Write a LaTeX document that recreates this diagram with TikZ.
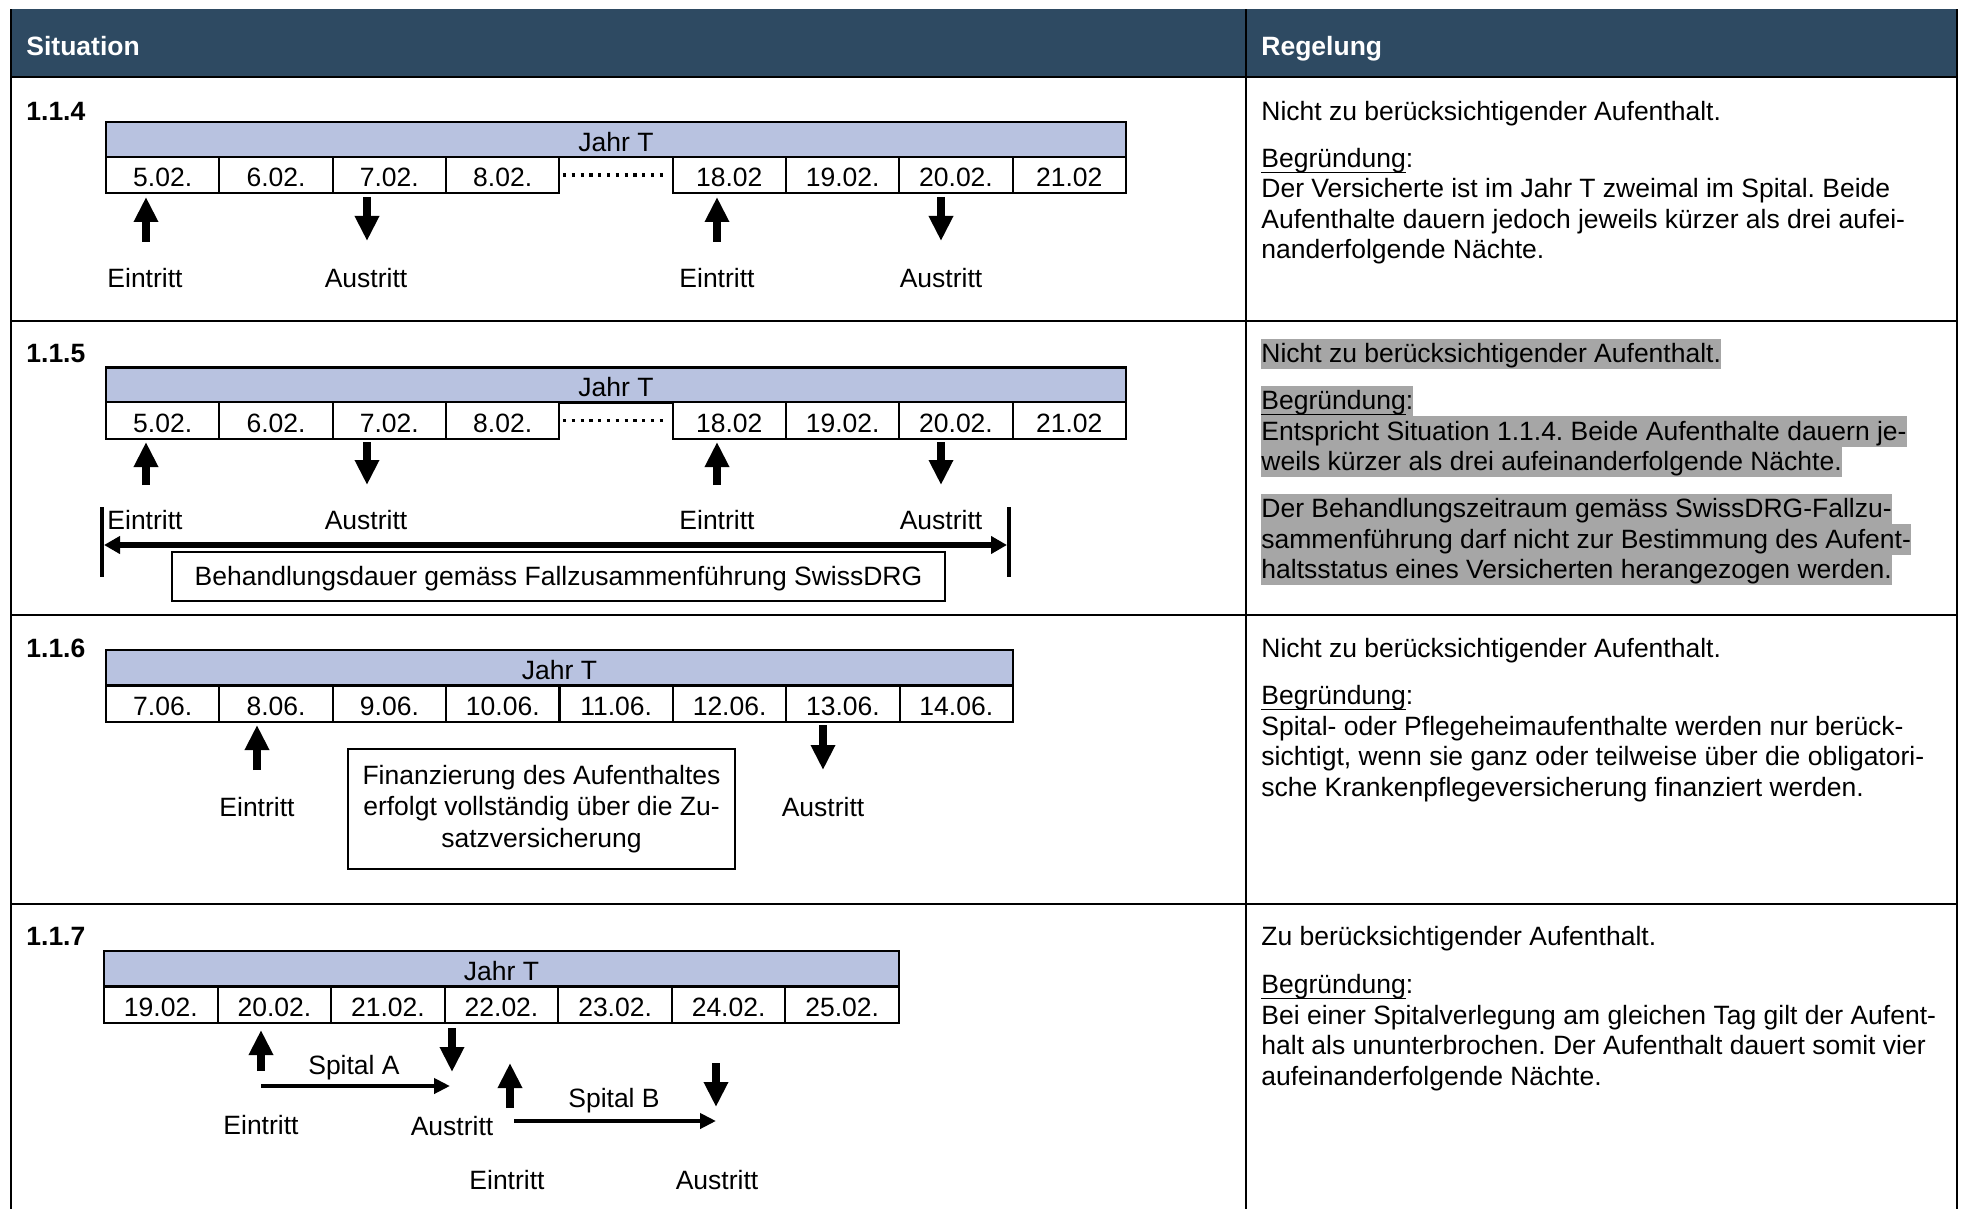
\documentclass[tikz,border=0pt]{standalone}
\usepackage{fontspec}
\setmainfont{Liberation Sans}
\usepackage{tikz}
\usetikzlibrary{arrows.meta}
\frenchspacing
\definecolor{headblue}{HTML}{2E4A62}
\definecolor{jahrblue}{HTML}{B8C2E0}
\definecolor{hlgray}{HTML}{A6A6A6}
\newcommand\grund{\fontsize{13.25pt}{15.25pt}\selectfont}
\newsavebox\ulbox
\newcommand\ulword[1]{\sbox\ulbox{#1}\rlap{\rule[-2.9pt]{\wd\ulbox}{0.75pt}}\usebox\ulbox}
\newcommand\hl[1]{{\setlength{\fboxsep}{0pt}\colorbox{hlgray}{\rule[-3.4pt]{0pt}{15.25pt}#1}}}
\tikzstyle{kopf}=[inner sep=0pt, anchor=base west, yshift=-1.25pt, text=white, font=\grund\bfseries]
\tikzstyle{nummer}=[inner sep=0pt, anchor=base west, yshift=-1.25pt, font=\grund\bfseries]
\tikzstyle{regel}=[inner sep=0pt, anchor=base west, yshift=-1.25pt, align=left]
\tikzstyle{marke}=[inner sep=0pt, anchor=base, yshift=-1.25pt]
\tikzstyle{jahr}=[draw=black, line width=1.1pt, fill=jahrblue, minimum height=17.5pt, inner sep=0pt, text height=12pt, text depth=0pt]
\tikzstyle{datum}=[draw=black, line width=1pt, fill=white, minimum width=56.67pt, minimum height=18pt, inner sep=0pt, text height=12pt, text depth=0pt]
\tikzstyle{luecke}=[minimum width=56.67pt, minimum height=18pt, inner sep=0pt]
\tikzstyle{punkte}=[line width=1.6pt, dash pattern=on 1.6pt off 2.8pt]
\tikzstyle{rahmen}=[draw=black, line width=1pt, fill=white, inner sep=0pt]
\tikzstyle{pfeil}=[line width=4pt, -{Triangle[width=11.5pt,length=12.5pt]}]
\tikzstyle{zeitpfeil}=[line width=2.2pt, -{Triangle[width=7.5pt,length=8pt]}]
\tikzstyle{spanne}=[line width=3pt, {Triangle[width=8.5pt,length=8pt]}-{Triangle[width=8.5pt,length=8pt]}]
\tikzstyle{klammer}=[line width=2.25pt]

\begin{document}
\begin{tikzpicture}[x=0.5pt, y=-0.5pt, font=\grund]
\useasboundingbox (0,0) rectangle (1961,1209);
\fill[white] (0,0) rectangle (1961,1209);
% table
\fill[headblue] (11,9.5) rectangle (1957,77);
\draw[line width=1pt] (11,9.5) -- (11,1209);
\draw[line width=1pt] (1246,9.5) -- (1246,1209);
\draw[line width=1pt] (1957,9.5) -- (1957,1209);
\draw[line width=1.3pt] (11,77) -- (1957,77);
\draw[line width=1.3pt] (11,321) -- (1957,321);
\draw[line width=1.3pt] (11,615) -- (1957,615);
\draw[line width=1.3pt] (11,904) -- (1957,904);
\node[kopf] (sit) at (26,53) {Situation};
\node[kopf] (reg) at (1261,53) {Regelung};

% 1.1.4
\node[nummer] (n4) at (26,118) {1.1.4};
\node[jahr, minimum width=510pt] (jahr4) at (616,139.5) {Jahr T};
\node[datum] (d40) at (162.7,175) {5.02.};
\node[datum] (d41) at (276,175) {6.02.};
\node[datum] (d42) at (389.3,175) {7.02.};
\node[datum] (d43) at (502.7,175) {8.02.};
\node[luecke] (d44) at (616,175) {};
\node[datum] (d45) at (729.3,175) {18.02};
\node[datum] (d46) at (842.7,175) {19.02.};
\node[datum] (d47) at (956,175) {20.02.};
\node[datum] (d48) at (1069.3,175) {21.02};
\draw[punkte] ([xshift=2pt]d44.west) -- ([xshift=-5pt]d44.east);
\coordinate (s40) at (146,242);
\coordinate (t40) at (146,197);
\coordinate (s41) at (367,197);
\coordinate (t41) at (367,241);
\coordinate (s42) at (717,242);
\coordinate (t42) at (717,197);
\coordinate (s43) at (941,197);
\coordinate (t43) at (941,241);
\draw[pfeil] (s40) -- (t40);
\draw[pfeil] (s41) -- (t41);
\draw[pfeil] (s42) -- (t42);
\draw[pfeil] (s43) -- (t43);
\node[marke] (l40) at (145,285) {Eintritt};
\node[marke] (l41) at (366,285) {Austritt};
\node[marke] (l42) at (717,285) {Eintritt};
\node[marke] (l43) at (941,285) {Austritt};
\node[regel] (r4a) at (1261,118) {Nicht zu berücksichtigender Aufenthalt.};
\node[regel] (r4b) at (1261,256.5) {\ulword{Begründung}:\\Der Versicherte ist im Jahr T zweimal im Spital. Beide\\Aufenthalte dauern jedoch jeweils kürzer als drei aufei-\\nanderfolgende Nächte.};

% 1.1.5
\node[nummer] (n5) at (26,360) {1.1.5};
\node[jahr, minimum width=510pt] (jahr5) at (616,385) {Jahr T};
\node[datum] (d50) at (162.7,420.5) {5.02.};
\node[datum] (d51) at (276,420.5) {6.02.};
\node[datum] (d52) at (389.3,420.5) {7.02.};
\node[datum] (d53) at (502.7,420.5) {8.02.};
\node[luecke] (d54) at (616,420.5) {};
\node[datum] (d55) at (729.3,420.5) {18.02};
\node[datum] (d56) at (842.7,420.5) {19.02.};
\node[datum] (d57) at (956,420.5) {20.02.};
\node[datum] (d58) at (1069.3,420.5) {21.02};
\draw[punkte] ([xshift=2pt]d54.west) -- ([xshift=-5pt]d54.east);
\coordinate (s50) at (146,485);
\coordinate (t50) at (146,442);
\coordinate (s51) at (367,442);
\coordinate (t51) at (367,485);
\coordinate (s52) at (717,485);
\coordinate (t52) at (717,442);
\coordinate (s53) at (941,442);
\coordinate (t53) at (941,485);
\draw[pfeil] (s50) -- (t50);
\draw[pfeil] (s51) -- (t51);
\draw[pfeil] (s52) -- (t52);
\draw[pfeil] (s53) -- (t53);
\node[marke] (l50) at (145,527) {Eintritt};
\node[marke] (l51) at (366,527) {Austritt};
\node[marke] (l52) at (717,527) {Eintritt};
\node[marke] (l53) at (941,527) {Austritt};
\coordinate (ko5) at (102,507);
\coordinate (ku5) at (102,577);
\coordinate (qo5) at (1009,507);
\coordinate (qu5) at (1009,577);
\coordinate (sp5) at (104,545);
\coordinate (sq5) at (1007,545);
\draw[klammer] (ko5) -- (ku5);
\draw[klammer] (qo5) -- (qu5);
\draw[spanne] (sp5) -- (sq5);
\node[rahmen, minimum width=386.5pt, minimum height=24.5pt, text height=11.9pt, text depth=2.7pt] (bd5) at (558.5,576.5) {Behandlungsdauer gemäss Fallzusammenführung SwissDRG};
\node[regel] (r5a) at (1261,360) {\hl{Nicht zu berücksichtigender Aufenthalt.}};
\node[regel] (r5b) at (1261,468) {\hl{\ulword{Begründung}:}\\\hl{Entspricht Situation 1.1.4. Beide Aufenthalte dauern je-}\\\hl{weils kürzer als drei aufeinanderfolgende Nächte.}};
\node[regel] (r5c) at (1261,576) {\hl{Der Behandlungszeitraum gemäss SwissDRG-Fallzu-}\\\hl{sammenführung darf nicht zur Bestimmung des Aufent-}\\\hl{haltsstatus eines Versicherten herangezogen werden.}};

% 1.1.6
\node[nummer] (n6) at (26,655) {1.1.6};
\node[jahr, minimum width=453.5pt] (jahr6) at (559.5,667.5) {Jahr T};
\node[datum] (d60) at (162.7,703.5) {7.06.};
\node[datum] (d61) at (276.1,703.5) {8.06.};
\node[datum] (d62) at (389.4,703.5) {9.06.};
\node[datum] (d63) at (502.8,703.5) {10.06.};
\node[datum] (d64) at (616.2,703.5) {11.06.};
\node[datum] (d65) at (729.6,703.5) {12.06.};
\node[datum] (d66) at (842.9,703.5) {13.06.};
\node[datum] (d67) at (956.3,703.5) {14.06.};
\coordinate (s60) at (257,770);
\coordinate (t60) at (257,725);
\coordinate (s61) at (823,725);
\coordinate (t61) at (823,770);
\draw[pfeil] (s60) -- (t60);
\draw[pfeil] (s61) -- (t61);
\node[marke] (l60) at (257,814) {Eintritt};
\node[marke] (l61) at (823,814) {Austritt};
\node[rahmen, align=center, minimum width=193.5pt, minimum height=60pt] (fz6) at (541.5,809) {Finanzierung des Aufenthaltes\\[0.5pt]erfolgt vollständig über die Zu-\\[0.5pt]satzversicherung};
\node[regel] (r6a) at (1261,655) {Nicht zu berücksichtigender Aufenthalt.};
\node[regel] (r6b) at (1261,793.5) {\ulword{Begründung}:\\Spital- oder Pflegeheimaufenthalte werden nur berück-\\sichtigt, wenn sie ganz oder teilweise über die obligatori-\\sche Krankenpflegeversicherung finanziert werden.};

% 1.1.7
\node[nummer] (n7) at (26,943) {1.1.7};
\node[jahr, minimum width=397.5pt] (jahr7) at (501.5,968.5) {Jahr T};
\node[datum, minimum width=56.79pt] (d70) at (160.8,1004.5) {19.02.};
\node[datum, minimum width=56.79pt] (d71) at (274.4,1004.5) {20.02.};
\node[datum, minimum width=56.79pt] (d72) at (387.9,1004.5) {21.02.};
\node[datum, minimum width=56.79pt] (d73) at (501.5,1004.5) {22.02.};
\node[datum, minimum width=56.79pt] (d74) at (615.1,1004.5) {23.02.};
\node[datum, minimum width=56.79pt] (d75) at (728.6,1004.5) {24.02.};
\node[datum, minimum width=56.79pt] (d76) at (842.2,1004.5) {25.02.};
\coordinate (s70) at (261,1071);
\coordinate (t70) at (261,1030);
\coordinate (s71) at (452,1028);
\coordinate (t71) at (452,1072);
\coordinate (s72) at (510,1108);
\coordinate (t72) at (510,1063);
\coordinate (s73) at (716,1063);
\coordinate (t73) at (716,1107);
\draw[pfeil] (s70) -- (t70);
\draw[pfeil] (s71) -- (t71);
\draw[pfeil] (s72) -- (t72);
\draw[pfeil] (s73) -- (t73);
\coordinate (a70) at (261,1086);
\coordinate (a71) at (450,1086);
\coordinate (b70) at (514,1121);
\coordinate (b71) at (716,1121);
\draw[zeitpfeil] (a70) -- (a71);
\draw[zeitpfeil] (b70) -- (b71);
\node[marke] (spa) at (354,1072) {Spital A};
\node[marke] (spb) at (614,1105) {Spital B};
\node[marke] (l70) at (261,1132) {Eintritt};
\node[marke] (l71) at (452,1133) {Austritt};
\node[marke] (l72) at (507,1187) {Eintritt};
\node[marke] (l73) at (717,1187) {Austritt};
\node[regel] (r7a) at (1261,943) {Zu berücksichtigender Aufenthalt.};
\node[regel] (r7b) at (1261,1082.5) {\ulword{Begründung}:\\Bei einer Spitalverlegung am gleichen Tag gilt der Aufent-\\halt als ununterbrochen. Der Aufenthalt dauert somit vier\\aufeinanderfolgende Nächte.};
\end{tikzpicture}
\end{document}
